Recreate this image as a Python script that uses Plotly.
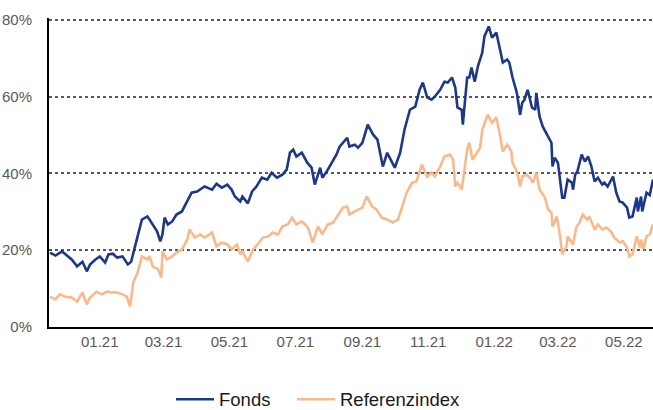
import pandas as pd
import plotly.graph_objects as go

# Day offsets from 2020-11-15 and cumulative performance in %
BASE_DATE = "2020-11-15"
END_DAY = 559

fonds_days = [1, 6, 12, 17, 21, 26, 31, 35, 38, 43, 47, 52, 55, 59, 63, 68, 70, 73, 76, 78,
              80, 82, 86, 91, 93, 96, 100, 103, 105, 107, 110, 114, 118, 123, 128, 132, 137, 140, 144, 151,
              155, 160, 165, 169, 172, 177, 179, 184, 188, 192, 197, 202, 206, 211, 216, 220, 223, 226, 229, 234,
              239, 243, 246, 251, 253, 257, 262, 266, 269, 276, 278, 283, 286, 290, 295, 300, 304, 309, 313, 317,
              320, 325, 329, 334, 339, 343, 346, 350, 354, 357, 362, 366, 369, 373, 376, 378, 382, 383, 387, 389,
              391, 394, 397, 401, 403, 407, 410, 414, 417, 420, 424, 426, 429, 433, 436, 438, 440, 443, 447, 450,
              451, 454, 457, 462, 465, 466, 468, 471, 475, 477, 480, 484, 485, 487, 489, 493, 496, 499, 502, 505,
              508, 512, 514, 517, 522, 525, 528, 531, 535, 537, 540, 544, 545, 548, 549, 553, 556, 559]
fonds_vals = [19.4, 18.6, 19.7, 18.4, 17.6, 15.8, 17.0, 14.5, 16.3, 17.6, 18.4, 16.8, 18.9, 19.1, 18.1, 18.4, 17.6, 16.3, 17.0, 19.4,
              21.5, 23.6, 28.0, 28.8, 28.0, 26.7, 24.9, 22.3, 24.1, 28.5, 26.7, 27.5, 29.3, 30.1, 32.7, 35.0, 35.3, 35.8, 36.6, 35.8,
              37.3, 36.3, 37.1, 35.8, 34.0, 32.7, 34.0, 32.2, 35.3, 36.6, 38.9, 38.4, 40.2, 38.9, 39.7, 41.0, 45.4, 46.2, 44.4, 45.4,
              42.8, 41.5, 37.1, 41.5, 38.9, 40.5, 43.1, 44.9, 47.0, 49.3, 47.0, 47.5, 46.7, 48.0, 52.7, 50.1, 48.8, 41.8, 45.4, 43.1,
              41.5, 45.4, 51.4, 56.6, 57.4, 61.8, 63.7, 59.8, 59.2, 60.0, 61.8, 63.9, 63.7, 65.0, 62.4, 57.2, 56.6, 52.7, 65.0, 65.0,
              67.6, 63.9, 68.0, 71.5, 75.7, 78.3, 75.4, 76.7, 73.0, 68.9, 69.7, 68.9, 65.0, 61.0, 55.3, 58.5, 59.2, 61.8, 57.2, 56.6,
              61.0, 54.8, 52.2, 49.6, 48.0, 41.8, 44.1, 42.8, 33.7, 33.7, 38.4, 37.6, 35.8, 39.7, 40.5, 44.9, 43.1, 44.4, 41.8, 37.9,
              38.9, 37.1, 37.6, 36.6, 39.2, 35.0, 32.7, 32.4, 31.1, 28.5, 28.8, 33.7, 30.1, 34.0, 30.1, 35.0, 34.4, 38.4]

ref_days = [1, 6, 10, 15, 21, 26, 31, 35, 38, 44, 49, 54, 58, 63, 68, 72, 75, 78, 82, 86,
            91, 93, 96, 101, 104, 105, 109, 114, 118, 123, 128, 130, 135, 140, 144, 146, 151, 155, 160, 165,
            169, 174, 177, 179, 184, 189, 193, 198, 203, 207, 212, 216, 221, 225, 229, 234, 239, 241, 244, 249,
            253, 258, 263, 267, 272, 276, 278, 283, 290, 294, 299, 303, 308, 313, 318, 323, 327, 331, 336, 340,
            345, 350, 354, 357, 362, 366, 371, 374, 376, 378, 382, 387, 389, 392, 396, 399, 401, 406, 410, 414,
            417, 420, 424, 428, 429, 433, 436, 438, 442, 445, 448, 451, 454, 459, 462, 465, 466, 470, 473, 475,
            479, 480, 484, 485, 488, 491, 494, 498, 500, 505, 508, 512, 516, 521, 523, 528, 531, 535, 537, 540,
            544, 547, 548, 550, 553, 556, 559]
ref_vals = [7.9, 7.2, 8.5, 7.9, 7.7, 6.6, 9.0, 5.9, 7.7, 9.2, 8.5, 9.2, 9.0, 9.0, 8.5, 7.9, 5.3, 11.6, 14.2, 18.4,
            17.6, 18.4, 15.8, 15.0, 12.9, 19.7, 17.6, 18.4, 19.4, 20.2, 22.8, 25.4, 23.3, 24.1, 23.3, 23.6, 24.6, 21.0, 22.0, 21.5,
            20.2, 21.5, 18.9, 19.7, 17.0, 20.2, 21.5, 23.3, 23.6, 24.6, 24.1, 26.2, 26.7, 28.5, 26.7, 27.5, 26.2, 24.9, 22.0, 26.2,
            24.1, 26.7, 27.2, 28.8, 31.1, 31.4, 29.3, 30.1, 31.1, 34.0, 31.4, 30.6, 28.5, 28.0, 27.2, 28.0, 31.4, 35.0, 37.6, 37.9,
            42.3, 39.2, 40.2, 39.2, 41.8, 44.4, 44.9, 43.6, 36.6, 37.6, 35.8, 46.2, 48.0, 43.6, 45.4, 46.7, 51.4, 55.3, 53.2, 54.6,
            50.6, 45.7, 47.5, 45.7, 42.8, 40.5, 36.6, 39.2, 39.7, 38.9, 37.6, 40.2, 35.8, 33.7, 30.6, 29.8, 26.2, 28.8, 23.6, 18.9,
            21.0, 23.6, 22.0, 21.5, 25.9, 27.2, 29.3, 28.0, 28.8, 25.4, 26.7, 25.4, 25.9, 24.6, 23.3, 22.0, 22.3, 20.7, 18.4, 18.9,
            23.6, 20.7, 22.8, 20.2, 23.6, 24.1, 26.7]

series_names = ["Fonds", "Referenzindex"]
series_colors = ["#1d3886", "#f9b98b"]
y_ticks = [0, 20, 40, 60, 80]
y_ticktext = ["0%", "20%", "40%", "60%", "80%"]

base = pd.Timestamp(BASE_DATE)
fonds_x = [(base + pd.Timedelta(days=d)).strftime("%Y-%m-%d") for d in fonds_days]
ref_x = [(base + pd.Timedelta(days=d)).strftime("%Y-%m-%d") for d in ref_days]
x_end = (base + pd.Timedelta(days=END_DAY)).strftime("%Y-%m-%d")

FONT = "Arial, 'Liberation Sans', sans-serif"

fig = go.Figure()
fig.add_trace(go.Scatter(x=ref_x, y=ref_vals, mode="lines", name=series_names[1],
                         legend="legend2",
                         line=dict(color=series_colors[1], width=2.6)))
fig.add_trace(go.Scatter(x=fonds_x, y=fonds_vals, mode="lines", name=series_names[0],
                         legend="legend",
                         line=dict(color=series_colors[0], width=2.6)))

legend_common = dict(orientation="h", xref="container", yref="container",
                     xanchor="left", y=0.025, yanchor="middle",
                     font=dict(size=18.5, color="#1a1a1a"), itemwidth=38,
                     bgcolor="rgba(0,0,0,0)")

fig.update_layout(
    width=653, height=410,
    margin=dict(l=49, r=0, t=18, b=83, autoexpand=False),
    paper_bgcolor="white", plot_bgcolor="white",
    font=dict(family=FONT, size=15, color="#595959"),
    showlegend=True,
    legend=dict(legend_common, x=171 / 653),
    legend2=dict(legend_common, x=292 / 653),
)
fig.update_xaxes(
    type="date", automargin=False,
    range=[BASE_DATE, x_end],
    tick0="2021-01-01", dtick="M2", tickformat="%m.%y",
    ticks="", showgrid=False, zeroline=False,
    showline=True, linecolor="black", linewidth=2,
    tickfont=dict(size=15, color="#595959"),
    minor=dict(ticks="outside", ticklen=4, tickcolor="#333", tickwidth=1,
               tick0="2021-01-01", dtick="M12", showgrid=False),
)
fig.update_yaxes(
    automargin=False,
    range=[0, 80.5], tickvals=y_ticks, ticktext=y_ticktext,
    ticks="", ticklabelstandoff=12,
    showgrid=True, gridcolor="#595959", gridwidth=2, griddash="dot",
    zeroline=False, showline=True, linecolor="black", linewidth=2,
    tickfont=dict(size=15, color="#595959"),
)

fig.write_html("out.html", config={"displayModeBar": False},
               post_script="document.body.style.margin='0';document.body.style.padding='0';")
